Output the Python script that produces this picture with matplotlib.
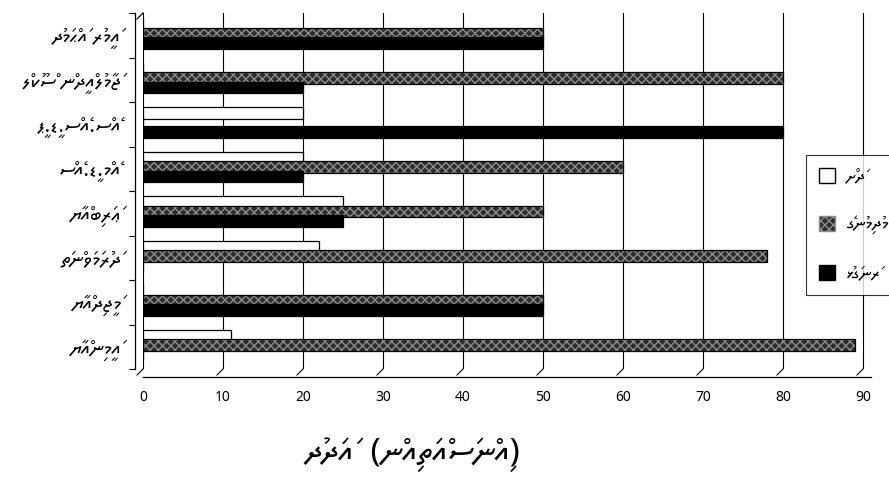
import os
import unicodedata

import matplotlib
matplotlib.use("Agg")
import matplotlib.pyplot as plt
from matplotlib import font_manager
from matplotlib.lines import Line2D
from matplotlib.patches import Patch

# categories listed bottom to top
categories = ["އަމީނިއްޔާ", "މަޖީދިއްޔާ", "ދަރުމަވަންތަ", "ޢަރަބިއްޔާ",
              "އެމް.ޑީ.އެސް", "އެސް.އެސް.ޑީ.ޕީ", "ޖަމާލުއްދީން ސްކޫލް", "އަމީރު އަޙްމަދު"]
series_names = ["ދަށް", "މެދުމިނުގެ", "ރަނގަޅު"]
white_vals = [11, 0, 22, 25, 20, 20, 0, 0]
hatch_vals = [89, 50, 78, 50, 60, 0, 80, 50]
black_vals = [0, 50, 0, 25, 20, 80, 20, 50]
x_ticks = [0, 10, 20, 30, 40, 50, 60, 70, 80, 90]
x_title_word = "އަދަދު"
x_title_unit = "(އިންސައްތައިން)"


def thaana_font():
    for path in ["/usr/share/fonts/truetype/google-fonts/NotoSansThaana[wght].ttf",
                 "/usr/share/fonts/truetype/freefont/FreeSerif.ttf"]:
        if os.path.exists(path):
            font_manager.fontManager.addfont(path)
            return font_manager.FontProperties(fname=path).get_name()
    return "DejaVu Sans"


def rtl(text):
    # matplotlib lays glyphs out left to right, so put the clusters in visual order
    clusters = []
    for ch in text:
        if clusters and unicodedata.category(ch) == "Mn":
            clusters[-1] += ch
        else:
            clusters.append(ch)
    mirror = {"(": ")", ")": "("}
    return "".join(mirror.get(c, c) for c in reversed(clusters))


def main():
    tfont = [thaana_font(), "DejaVu Sans"]
    plt.rcParams["font.family"] = tfont
    W, H = 889, 480
    fig = plt.figure(figsize=(W / 100, H / 100), dpi=100)
    left, right, top, bottom = 143, 871, 13, 369
    xmax = 91
    ax = fig.add_axes([left / W, 1 - bottom / H, (right - left) / W, (bottom - top) / H])

    y = list(range(len(categories)))
    h = 0.26
    ax.barh([v + 0.25 for v in y], white_vals, height=h, color="white",
            edgecolor="black", linewidth=0.9, zorder=3)
    ax.barh([v + 0.04 for v in y], hatch_vals, height=h, color="#2c2c2c",
            edgecolor="#8c8c8c", hatch="xxxx", linewidth=0, zorder=4)
    ax.barh([v + 0.04 for v in y], hatch_vals, height=h, fill=False,
            edgecolor="black", linewidth=0.9, zorder=4)
    ax.barh([v - 0.17 for v in y], black_vals, height=h, color="black",
            edgecolor="black", linewidth=0.9, zorder=5)

    ax.set_xlim(0, xmax)
    ax.set_ylim(-0.5, len(categories) - 0.5)
    ax.set_xticks(x_ticks)
    ax.set_xticklabels([str(v) for v in x_ticks], family="Liberation Sans", fontsize=11)
    ax.tick_params(axis="x", length=0, pad=9)
    ax.grid(axis="x", color="black", linewidth=0.8, zorder=0)

    ax.set_yticks(y)
    ax.set_yticks([v - 0.5 for v in y] + [len(y) - 0.5], minor=True)
    ax.set_yticklabels([rtl(c) for c in categories])
    ax.tick_params(axis="y", which="major", length=0, pad=10, labelsize=15)
    ax.tick_params(axis="y", which="minor", length=4, direction="out", width=0.8)

    for s in ["top", "right"]:
        ax.spines[s].set_visible(False)
    ax.spines["left"].set_position(("outward", 6))
    ax.spines["bottom"].set_position(("outward", 6))
    ax.spines["left"].set_linewidth(0.9)
    ax.spines["bottom"].set_linewidth(0.9)
    ax.set_axisbelow(True)

    # 3D floor: slanted grid ends
    px = (right - left) / xmax
    for v in x_ticks:
        xb = left + v * px
        fig.add_artist(Line2D([xb / W, (xb - 6) / W], [1 - bottom / H, 1 - (bottom + 6) / H],
                              color="black", linewidth=0.8))
    fig.add_artist(Line2D([left / W, (left - 6) / W], [1 - top / H, 1 - (top + 6) / H],
                          color="black", linewidth=0.9))

    handles = [Patch(facecolor="white", edgecolor="black"),
               Patch(facecolor="#2c2c2c", edgecolor="#8c8c8c", hatch="xxxx"),
               Patch(facecolor="black", edgecolor="black")]
    leg = fig.legend(handles, [rtl(s) for s in series_names], loc="upper left",
                     bbox_to_anchor=(806 / W, 1 - 155 / H), frameon=True, fancybox=False,
                     edgecolor="black", handlelength=0.9, handleheight=0.9,
                     handletextpad=0.6, labelspacing=1.65, borderpad=0.7,
                     borderaxespad=0, prop={"family": tfont, "size": 13})
    leg.get_frame().set_linewidth(0.8)

    title = rtl(x_title_word) + "  " + rtl(x_title_unit)
    fig.text(412 / W, 1 - 455 / H, title, family=tfont, fontsize=24,
             ha="center", va="center")

    fig.savefig("out.png", dpi=100)


if __name__ == "__main__":
    main()
